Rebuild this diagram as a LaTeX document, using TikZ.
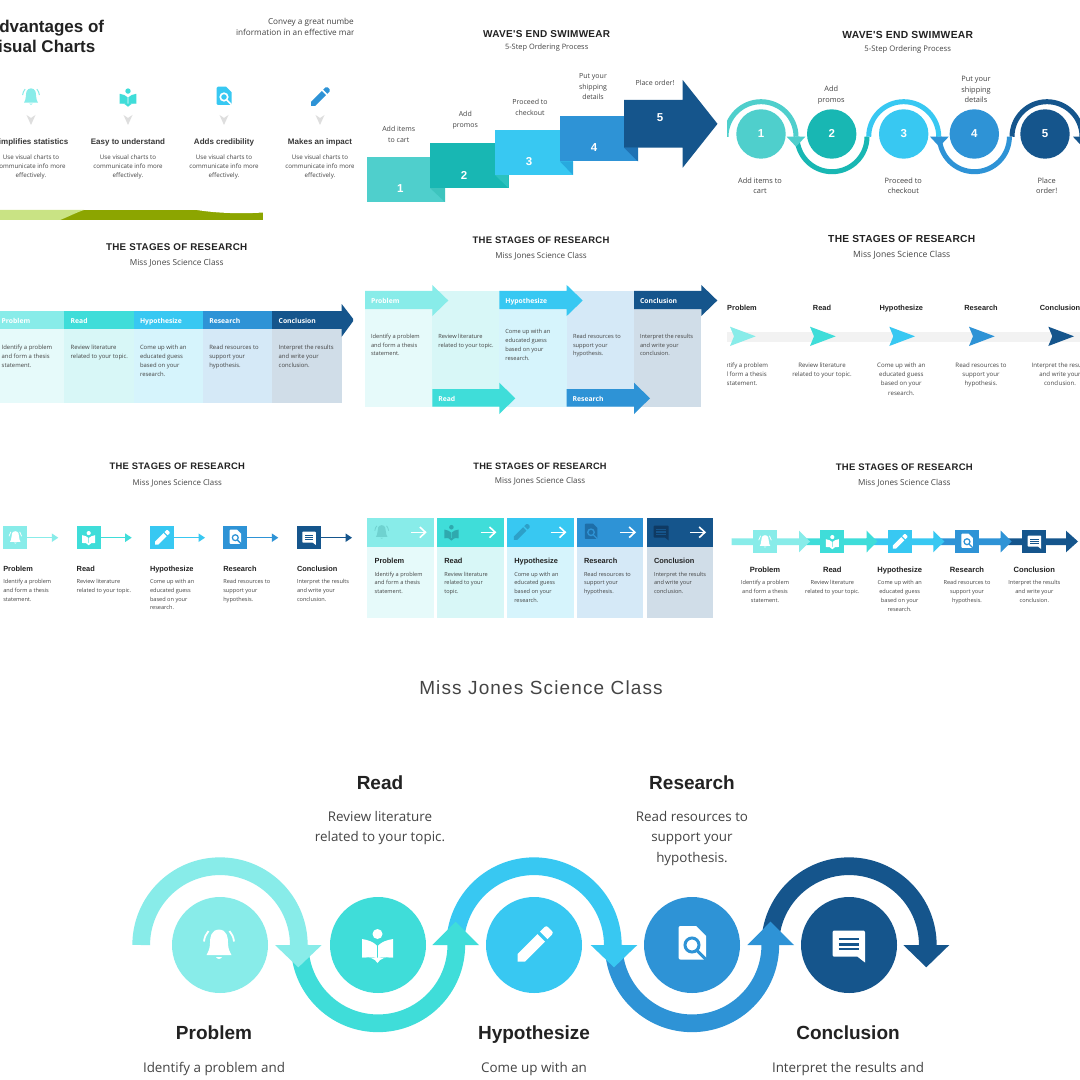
\documentclass[tikz,border=0pt]{standalone}
\usepackage{fontspec}
\setmainfont{Open Sans}
\newfontfamily\headf{Liberation Sans}
\newfontfamily\titlef{Liberation Sans}[LetterSpace=3]
\newfontfamily\classf{Liberation Sans}[LetterSpace=6]
\definecolor{cA}{HTML}{88ECE9}
\definecolor{cB}{HTML}{3FDDD9}
\definecolor{cC}{HTML}{38C8F2}
\definecolor{cD}{HTML}{2E93D6}
\definecolor{cE}{HTML}{15558C}
\definecolor{bA}{HTML}{E6FAFA}
\definecolor{bB}{HTML}{D8F7F7}
\definecolor{bC}{HTML}{D6F4FC}
\definecolor{bD}{HTML}{D5E9F7}
\definecolor{bE}{HTML}{D0DDE8}
\definecolor{dA}{HTML}{6FD2D0}
\definecolor{dB}{HTML}{2FA9AE}
\definecolor{dC}{HTML}{2DA0C8}
\definecolor{dD}{HTML}{1E6EA8}
\definecolor{dE}{HTML}{0F3A63}
\definecolor{sA}{HTML}{4FCFCC}
\definecolor{sB}{HTML}{18B7B3}
\definecolor{fA}{HTML}{3DC4BE}
\definecolor{fB}{HTML}{2BC2BF}
\definecolor{fC}{HTML}{28A9DE}
\definecolor{fD}{HTML}{1F72B4}
\definecolor{ink}{HTML}{222222}
\definecolor{gry}{HTML}{444444}
\definecolor{oliveband}{HTML}{8CA500}
\definecolor{limeband}{HTML}{C9E384}
\newcounter{nn}
\tikzset{lbl/.style={inner sep=0pt,outer sep=0pt}}
% text: [font]{x}{y of first line centre}{size px}{leading px}{colour}{text}
\newcommand{\txL}[7][]{\pgfmathsetmacro\fsz{#4*0.75}\pgfmathsetmacro\ldg{#5*0.75}\stepcounter{nn}%
 \node[lbl,anchor=north west,align=left,text=#6,font=\fontsize{\fsz}{\ldg}\selectfont #1] (n\arabic{nn}) at (#2,{#3-0.36*#4}) {#7};}
\newcommand{\txC}[7][]{\pgfmathsetmacro\fsz{#4*0.75}\pgfmathsetmacro\ldg{#5*0.75}\stepcounter{nn}%
 \node[lbl,anchor=north,align=center,text=#6,font=\fontsize{\fsz}{\ldg}\selectfont #1] (n\arabic{nn}) at (#2,{#3-0.36*#4}) {#7};}
\newcommand{\cir}[4]{\fill[#4] (#1,#2) circle[radius={#3*0.75pt}];}
% half ring: cx cy r w colour sign(-1 up, 1 down)
\newcommand{\semi}[6]{\draw[line width={#4*0.75pt},draw=#5] ({#1-#3},#2) .. controls ({#1-#3},{#2+#6*0.5523*#3}) and ({#1-0.5523*#3},{#2+#6*#3}) .. (#1,{#2+#6*#3}) .. controls ({#1+0.5523*#3},{#2+#6*#3}) and ({#1+#3},{#2+#6*0.5523*#3}) .. ({#1+#3},#2);}
% block arrow: x0 x1 xtip ytop ybot headtop headbot colour
\newcommand{\barrow}[8]{\fill[#8] (#1,#4) -- (#2,#4) -- (#2,#6) -- (#3,{(#6+#7)/2}) -- (#2,#7) -- (#2,#5) -- (#1,#5) -- cycle;}
% icons: x y scale fg bg
\newcommand{\icbell}[5]{\begin{scope}[shift={(#1,#2)},x=#3*0.75pt,y=-#3*0.75pt]
 \fill[#4] (0,-15.5) .. controls (-8,-15) and (-9,-8) .. (-9,-2) .. controls (-9,4) and (-11,7) .. (-12.5,10) -- (12.5,10) .. controls (11,7) and (9,4) .. (9,-2) .. controls (9,-8) and (8,-15) .. (0,-15.5) -- cycle;
 \fill[#4] (-3,12) .. controls (-2,14.5) and (2,14.5) .. (3,12) -- cycle;
 \draw[#4,line width={1.8*#3*0.75pt}] (-15,-3.5) .. controls (-14.5,-8) and (-13,-11) .. (-10.5,-14);
 \draw[#4,line width={1.8*#3*0.75pt}] (15,-3.5) .. controls (14.5,-8) and (13,-11) .. (10.5,-14);
\end{scope}}
\newcommand{\icbook}[5]{\begin{scope}[shift={(#1,#2)},x=#3*0.75pt,y=-#3*0.75pt]
 \fill[#4] (0,-11) circle[radius={5*#3*0.75pt}];
 \fill[#4] (-15.5,-6) .. controls (-9,-5) and (-4,-3) .. (-0.7,0.5) -- (-0.7,13) .. controls (-4,12) and (-10,12) .. (-15.5,12.5) -- cycle;
 \fill[#4] (15.5,-6) .. controls (9,-5) and (4,-3) .. (0.7,0.5) -- (0.7,13) .. controls (4,12) and (10,12) .. (15.5,12.5) -- cycle;
 \fill[#4] (-15.5,12.5) .. controls (-8,12) and (-3,13) .. (0,18) .. controls (3,13) and (8,12) .. (15.5,12.5) -- cycle;
\end{scope}}
\newcommand{\icpen}[5]{\begin{scope}[shift={(#1,#2)},x=#3*0.75pt,y=-#3*0.75pt]
 \fill[#4] (-16.5,16.5) -- (-16.5,9) -- (3.5,-11) -- (11,-3.5) -- (-9,16.5) -- cycle;
 \fill[#4] (6,-13.5) -- (10.5,-18) .. controls (12,-19) and (13,-19) .. (14,-18) -- (18,-14) .. controls (19,-13) and (19,-12) .. (18,-10.5) -- (13.5,-6) -- cycle;
\end{scope}}
\newcommand{\icdoc}[5]{\begin{scope}[shift={(#1,#2)},x=#3*0.75pt,y=-#3*0.75pt]
 \fill[#4] (-13.5,-17) .. controls (-13.5,-18.5) and (-12.5,-19) .. (-11.5,-19) -- (4,-19) -- (14,-9) -- (14,12.5) .. controls (14,14) and (13,14.5) .. (12,14.5) -- (-11.5,14.5) .. controls (-12.5,14.5) and (-13.5,14) .. (-13.5,12.5) -- cycle;
 \draw[#5,line width={3*#3*0.75pt}] (0,0) circle[radius={7*#3*0.75pt}];
 \draw[#5,line width={3*#3*0.75pt}] (5,5.5) -- (13.5,14);
\end{scope}}
\newcommand{\icchat}[5]{\begin{scope}[shift={(#1,#2)},x=#3*0.75pt,y=-#3*0.75pt]
 \fill[#4] (-16,-12.5) .. controls (-16,-14) and (-15,-14.5) .. (-14,-14.5) -- (14.5,-14.5) .. controls (15.5,-14.5) and (16.5,-14) .. (16.5,-12.5) -- (16.5,17.5) -- (9,11.7) -- (-14,11.7) .. controls (-15,11.7) and (-16,11) .. (-16,10) -- cycle;
 \foreach \yy in {-6,-0.7,4}{\draw[#5,line width={2.5*#3*0.75pt}] (-10,\yy) -- (10,\yy);}
\end{scope}}
\begin{document}
\begin{tikzpicture}[x=0.75pt,y=-0.75pt]
\useasboundingbox (0,0) rectangle (1080,1080);
\fill[white] (0,0) rectangle (1080,1080);

%%% Row 1 panel 1
\begin{scope}
\clip (0,0) rectangle (353,220);
\txL[\headf\bfseries]{-13}{26.5}{17}{20}{ink}{Advantages of\\Visual Charts}
\txL{268}{21}{8.2}{11}{gry}{Convey a great number of}
\txL{236}{32}{8.2}{11}{gry}{information in an effective manner}
\icbell{31}{97}{0.56}{cA}{white}
\icbook{128}{97}{0.54}{cB}{white}
\icdoc{224}{97}{0.54}{cC}{white}
\icpen{320}{97}{0.54}{cD}{white}
\foreach \xx/\hh in {31/Simplifies statistics,128/Easy to understand,224/Adds credibility,320/Makes an impact}{
 \fill[black!13] ({\xx-4.5},115) -- (\xx,118) -- ({\xx+4.5},115) -- (\xx,125) -- cycle;
 \txC[\headf\bfseries]{\xx}{142}{8}{10}{ink!90}{\hh}
 \txC{\xx}{157}{6.2}{9}{gry}{Use visual charts to\\communicate info more\\effectively.}
}
\fill[oliveband] (0,210) rectangle (263,220);
\fill[limeband] (0,210) -- (84,210) .. controls (75,213) and (68,217) .. (60,220) -- (0,220) -- cycle;
\fill[white] (197,210) .. controls (215,213) and (240,214) .. (263,212.5) -- (263,210) -- cycle;
\end{scope}

%%% Row 1 panel 2
\txC[\titlef\bfseries]{546.7}{33.7}{10}{11}{ink}{WAVE'S END SWIMWEAR}
\txC{546.7}{46.5}{7.4}{9}{gry}{5-Step Ordering Process}
\fill[sA] (367,157) rectangle (445,202);
\fill[fA] (430,188) -- (445,188) -- (445,202) -- cycle;
\fill[sB] (430,143.5) rectangle (508.5,188);
\fill[fB] (495,175) -- (508.5,175) -- (508.5,188) -- cycle;
\fill[cC] (495,130) rectangle (573,175);
\fill[fC] (560,161.5) -- (573,161.5) -- (573,175) -- cycle;
\fill[cD] (560,116) rectangle (638,161.5);
\fill[fD] (624,147.7) -- (638,147.7) -- (638,161.5) -- cycle;
\barrow{624}{682.7}{717.5}{100}{147.7}{80}{167.7}{cE}
\foreach \xx/\yy/\nn in {400.3/189/1,464/175.5/2,529/161.5/3,594/148/4,660/118/5}{
 \txC[\headf\bfseries]{\xx}{\yy}{11.5}{12}{white}{\nn}
}
\txC{398.7}{129}{7}{10.3}{ink!85}{Add items\\to cart}
\txC{465.3}{114}{7}{10.3}{ink!85}{Add\\promos}
\txC{530}{102}{7}{10.3}{ink!85}{Proceed to\\checkout}
\txC{593}{76.5}{7}{10.3}{ink!85}{Put your\\shipping\\details}
\txC{655}{83}{7}{10.3}{ink!85}{Place order!}

%%% Row 1 panel 3
\begin{scope}
\clip (727,0) rectangle (1080,220);
\txC[\titlef\bfseries]{907.7}{35}{10.3}{11}{ink}{WAVE'S END SWIMWEAR}
\txC{907.7}{48}{7.7}{9}{gry}{5-Step Ordering Process}
\semi{1047}{136.7}{35}{5}{cE}{-1}
\semi{974.4}{136.7}{35}{5}{cD}{1}
\semi{903.7}{136.7}{35}{5}{cC}{-1}
\semi{832}{136.7}{35}{5}{sB}{1}
\semi{761}{136.7}{35}{5}{sA}{-1}
\fill[sA] (786.7,136.7) -- (805.3,136.7) -- (796,146.7) -- cycle;
\fill[cD] (930,136.7) -- (948.7,136.7) -- (939.3,146.7) -- cycle;
\fill[cE] (1073,136.7) -- (1091.7,136.7) -- (1082.3,146.7) -- cycle;
\foreach \xx/\nn/\cc in {761/1/sA,831.7/2/sB,903.7/3/cC,974.3/4/cD,1045/5/cE}{
 \cir{\xx}{134}{24.7}{\cc}
 \txC[\headf\bfseries]{\xx}{134}{11.5}{12}{white}{\nn}
}
\txC{831.3}{89}{7.4}{10.5}{ink!85}{Add\\promos}
\txC{976}{79}{7.4}{10.5}{ink!85}{Put your\\shipping\\details}
\txC{760}{180.5}{7.4}{10.5}{ink!85}{Add items to\\cart}
\txC{903.3}{180.5}{7.4}{10.5}{ink!85}{Proceed to\\checkout}
\txC{1046.7}{180.5}{7.4}{10.5}{ink!85}{Place\\order!}
\end{scope}

%%% Row 2 panel 1
\begin{scope}
\clip (0,230) rectangle (353,420);
\txC[\titlef\bfseries]{176.7}{247.3}{9.8}{12}{ink}{THE STAGES OF RESEARCH}
\txC{176.7}{262}{8.3}{9}{gry}{Miss Jones Science Class}
\foreach \xa/\xb/\cc/\bb in {-5/64.3/cA/bA,64.3/134/cB/bB,134/203/cC/bC,203/272/cD/bD,272/341.7/cE/bE}{
 \fill[\bb] (\xa,329) rectangle (\xb,402.7);
 \fill[\cc] (\xa,310.7) rectangle (\xb,329);
}
\fill[cE] (341.7,304) -- (354,320) -- (341.7,336.7) -- cycle;
\foreach \xx/\hh in {1.7/Problem,70.7/Read,140/Hypothesize,209.3/Research,278.7/Conclusion}{
 \txL[\bfseries]{\xx}{320.7}{6.8}{8}{white}{\hh}
}
\txL{1.7}{347}{5.9}{9}{gry}{Identify a problem\\and form a thesis\\statement.}
\txL{70.7}{347}{5.9}{9}{gry}{Review literature\\related to your topic.}
\txL{140}{347}{5.9}{9}{gry}{Come up with an\\educated guess\\based on your\\research.}
\txL{209.3}{347}{5.9}{9}{gry}{Read resources to\\support your\\hypothesis.}
\txL{278.7}{347}{5.9}{9}{gry}{Interpret the results\\and write your\\conclusion.}
\end{scope}

%%% Row 2 panel 2
\txC[\titlef\bfseries]{541}{240.7}{9.5}{12}{ink}{THE STAGES OF RESEARCH}
\txC{541}{255}{8.1}{9}{gry}{Miss Jones Science Class}
\foreach \xa/\xb/\bb in {365/432.3/bA,432.3/499.3/bB,499.3/566.7/bC,566.7/634/bD,634/701.3/bE}{
 \fill[\bb] (\xa,291) rectangle (\xb,406.7);
}
\barrow{365}{432.3}{448.3}{291}{309}{285}{316}{cA}
\barrow{499.3}{566.7}{582.7}{291}{309}{285}{316}{cC}
\barrow{634}{701.3}{717.3}{291}{309}{285}{316}{cE}
\barrow{432.3}{499.3}{515.3}{389}{406.7}{382.7}{414}{cB}
\barrow{566.7}{634}{650}{389}{406.7}{382.7}{414}{cD}
\foreach \xx/\yy/\hh in {371/300.5/Problem,505.3/300.5/Hypothesize,640/300.5/Conclusion,438.3/398.5/Read,572.7/398.5/Research}{
 \txL[\bfseries]{\xx}{\yy}{6.8}{8}{white}{\hh}
}
\txL{371}{336}{5.7}{8.8}{gry}{Identify a problem\\and form a thesis\\statement.}
\txL{438.3}{336}{5.7}{8.8}{gry}{Review literature\\related to your topic.}
\txL{505.3}{331.7}{5.7}{8.8}{gry}{Come up with an\\educated guess\\based on your\\research.}
\txL{573}{336}{5.7}{8.8}{gry}{Read resources to\\support your\\hypothesis.}
\txL{640}{336}{5.7}{8.8}{gry}{Interpret the results\\and write your\\conclusion.}

%%% Row 2 panel 3
\begin{scope}
\clip (727,230) rectangle (1080,420);
\txC[\titlef\bfseries]{901.7}{239}{10.2}{12}{ink}{THE STAGES OF RESEARCH}
\txC{901.7}{254}{8.6}{9}{gry}{Miss Jones Science Class}
\fill[black!5] (727,331.7) rectangle (1080,341.7);
\foreach \ll/\cc in {730/cA,810/cB,889.3/cC,969/cD,1048.3/cE}{
 \fill[\cc] (\ll,326.7) -- ({\ll+25.7},336.3) -- (\ll,346) -- ({\ll+4},336.3) -- cycle;
}
\foreach \xx/\hh in {742/Problem,822/Read,901.3/Hypothesize,981/Research,1060/Conclusion}{
 \txC[\headf\bfseries]{\xx}{308.3}{7.4}{9}{ink}{\hh}
}
\txC{742}{364.7}{6.1}{9.3}{gry}{Identify a problem\\and form a thesis\\statement.}
\txC{822}{364.7}{6.1}{9.3}{gry}{Review literature\\related to your topic.}
\txC{901.3}{364.7}{6.1}{9.3}{gry}{Come up with an\\educated guess\\based on your\\research.}
\txC{981}{364.7}{6.1}{9.3}{gry}{Read resources to\\support your\\hypothesis.}
\txC{1060}{364.7}{6.1}{9.3}{gry}{Interpret the results\\and write your\\conclusion.}
\end{scope}

%%% Row 3 panel 1
\txC[\titlef\bfseries]{177.3}{466.7}{9.4}{12}{ink}{THE STAGES OF RESEARCH}
\txC{177.3}{482}{7.9}{9}{gry}{Miss Jones Science Class}
\foreach \ll/\cc in {3.3/cA,76.7/cB,150/cC,223.3/cD,297/cE}{
 \fill[\cc] (\ll,526.3) rectangle ({\ll+24},549);
 \draw[\cc,line width=1.1pt] ({\ll+24},537.7) -- ({\ll+49},537.7);
 \fill[\cc] ({\ll+48.5},533.4) -- ({\ll+55},537.7) -- ({\ll+48.5},542) -- cycle;
}
\icbell{15.3}{537.7}{0.42}{white}{cA}
\icbook{88.7}{537.7}{0.42}{white}{cB}
\icpen{162}{537.7}{0.42}{white}{cC}
\icdoc{235.3}{537.7}{0.42}{white}{cD}
\icchat{309}{537.7}{0.42}{white}{cE}
\foreach \xx/\hh in {3.3/Problem,76.7/Read,150/Hypothesize,223.3/Research,297/Conclusion}{
 \txL[\headf\bfseries]{\xx}{568.7}{7.4}{9}{ink}{\hh}
}
\txL{3.3}{581.7}{5.6}{8.6}{gry}{Identify a problem\\and form a thesis\\statement.}
\txL{76.7}{581.7}{5.6}{8.6}{gry}{Review literature\\related to your topic.}
\txL{150}{581.7}{5.6}{8.6}{gry}{Come up with an\\educated guess\\based on your\\research.}
\txL{223.3}{581.7}{5.6}{8.6}{gry}{Read resources to\\support your\\hypothesis.}
\txL{297}{581.7}{5.6}{8.6}{gry}{Interpret the results\\and write your\\conclusion.}

%%% Row 3 panel 2
\txC[\titlef\bfseries]{540}{466.5}{9.25}{12}{ink}{THE STAGES OF RESEARCH}
\txC{540}{480.5}{8}{9}{gry}{Miss Jones Science Class}
\foreach \ll/\cc/\bb in {367.3/cA/bA,437/cB/bB,507/cC/bC,576.7/cD/bD,646.7/cE/bE}{
 \fill[\bb] (\ll,546.7) rectangle ({\ll+66.7},617.7);
 \fill[\cc] (\ll,518.3) rectangle ({\ll+66.7},546.7);
 \draw[white,line width=1.2pt] ({\ll+43.7},532.3) -- ({\ll+58},532.3);
 \draw[white,line width=1.2pt] ({\ll+52.5},527) -- ({\ll+58.2},532.3) -- ({\ll+52.5},537.6);
}
\icbell{381.7}{532.3}{0.46}{dA}{cA}
\icbook{451.4}{532.3}{0.46}{dB}{cB}
\icpen{521.4}{532.3}{0.46}{dC}{cC}
\icdoc{591}{532.3}{0.46}{dD}{cD}
\icchat{661}{532.3}{0.46}{dE}{cE}
\foreach \xx/\hh in {374.6/Problem,444.3/Read,514.3/Hypothesize,584/Research,654/Conclusion}{
 \txL[\headf\bfseries]{\xx}{561}{7.4}{9}{ink}{\hh}
}
\txL{374.6}{574}{5.6}{8.6}{gry}{Identify a problem\\and form a thesis\\statement.}
\txL{444.3}{574}{5.6}{8.6}{gry}{Review literature\\related to your\\topic.}
\txL{514.3}{574}{5.6}{8.6}{gry}{Come up with an\\educated guess\\based on your\\research.}
\txL{584}{574}{5.6}{8.6}{gry}{Read resources to\\support your\\hypothesis.}
\txL{654}{574}{5.6}{8.6}{gry}{Interpret the results\\and write your\\conclusion.}

%%% Row 3 panel 3
\txC[\titlef\bfseries]{904.3}{467.7}{9.5}{12}{ink}{THE STAGES OF RESEARCH}
\txC{904.3}{482}{8.2}{9}{gry}{Miss Jones Science Class}
\barrow{1000}{1066}{1078}{538.3}{545}{530.7}{552.3}{cE}
\barrow{933}{1000.7}{1011.7}{538.3}{545}{530.7}{552.3}{cD}
\barrow{866}{933.3}{944.3}{538.3}{545}{530.7}{552.3}{cC}
\barrow{799}{866.7}{877.3}{538.3}{545}{530.7}{552.3}{cB}
\barrow{731.7}{799}{810}{538.3}{545}{530.7}{552.3}{cA}
\foreach \xx/\cc in {765/cA,832.3/cB,899.7/cC,967/cD,1034.3/cE}{
 \fill[\cc] ({\xx-12},530.3) rectangle ({\xx+12},553);
}
\icbell{765}{541.7}{0.42}{white}{cA}
\icbook{832.3}{541.7}{0.42}{white}{cB}
\icpen{899.7}{541.7}{0.42}{white}{cC}
\icdoc{967}{541.7}{0.42}{white}{cD}
\icchat{1034.3}{541.7}{0.42}{white}{cE}
\foreach \xx/\hh in {765/Problem,832.3/Read,899.7/Hypothesize,967/Research,1034.3/Conclusion}{
 \txC[\headf\bfseries]{\xx}{569.3}{7.6}{9}{ink}{\hh}
}
\txC{765}{582.7}{5.6}{8.8}{gry}{Identify a problem\\and form a thesis\\statement.}
\txC{832.3}{582.7}{5.6}{8.8}{gry}{Review literature\\related to your topic.}
\txC{899.7}{582.7}{5.6}{8.8}{gry}{Come up with an\\educated guess\\based on your\\research.}
\txC{967}{582.7}{5.6}{8.8}{gry}{Read resources to\\support your\\hypothesis.}
\txC{1034.3}{582.7}{5.6}{8.8}{gry}{Interpret the results\\and write your\\conclusion.}

%%% Bottom panel
\txC[\classf]{541}{688}{19}{20}{gry}{Miss Jones Science Class}
\txC[\headf\bfseries]{380}{783}{19}{20}{ink}{Read}
\txC[\headf\bfseries]{692}{783}{19}{20}{ink}{Research}
\txC{380}{816}{13.4}{20.3}{gry}{Review literature\\related to your topic.}
\txC{692}{816}{13.4}{20.5}{gry}{Read resources to\\support your\\hypothesis.}
\semi{849}{945}{78.8}{17.7}{cE}{-1}
\semi{692}{945}{78.3}{17.7}{cD}{1}
\fill[cD] (747.3,945) -- (794,945) -- (770.5,921.7) -- cycle;
\semi{534}{945}{78.8}{17.7}{cC}{-1}
\fill[cC] (590.7,945) -- (637.3,945) -- (614,967.3) -- cycle;
\semi{378}{945}{78.3}{17.7}{cB}{1}
\fill[cB] (432.3,945) -- (479,945) -- (455.7,921.7) -- cycle;
\semi{220}{945}{78.8}{17.7}{cA}{-1}
\fill[cA] (275,945) -- (321.7,945) -- (298.3,967.3) -- cycle;
\fill[cE] (903.3,945) -- (949.3,945) -- (926.3,967.3) -- cycle;
\cir{220}{945}{48}{cA}
\cir{378}{945}{48}{cB}
\cir{534}{945}{48}{cC}
\cir{692}{945}{48}{cD}
\cir{849}{945}{48}{cE}
\icbell{219}{945}{1}{white}{cA}
\icbook{377.5}{945}{1}{white}{cB}
\icpen{534}{945}{1}{white}{cC}
\icdoc{692}{945}{1}{white}{cD}
\icchat{848.5}{945}{1}{white}{cE}
\txC[\headf\bfseries]{214}{1033}{19}{20}{ink}{Problem}
\txC[\headf\bfseries]{534}{1033}{19}{20}{ink}{Hypothesize}
\txC[\headf\bfseries]{848}{1033}{19}{20}{ink}{Conclusion}
\txC{214}{1067}{13.4}{20}{gry}{Identify a problem and}
\txC{534}{1067}{13.4}{20}{gry}{Come up with an}
\txC{848}{1067}{13.4}{20}{gry}{Interpret the results and}
\end{tikzpicture}
\end{document}
